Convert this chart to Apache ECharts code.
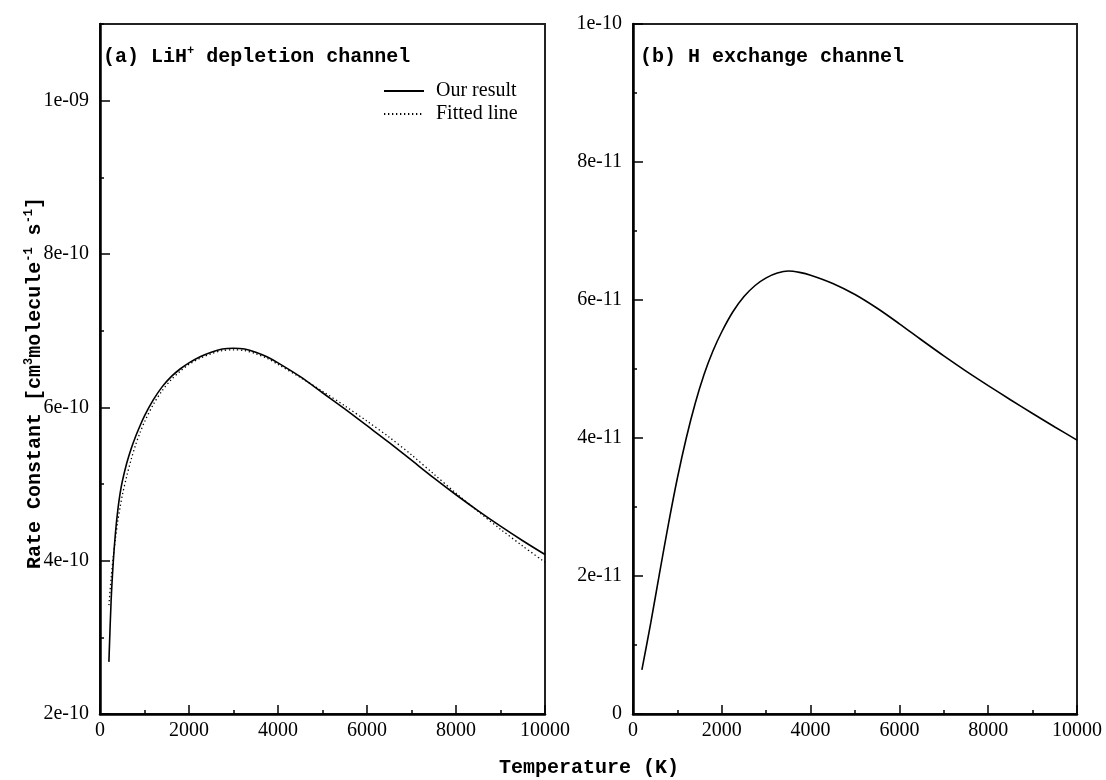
<!DOCTYPE html>
<html>
<head>
<meta charset="utf-8">
<script src="https://cdn.jsdelivr.net/npm/echarts@6/dist/echarts.min.js"></script>
<style>
html,body{margin:0;padding:0;background:#fff;}
#chart{width:1106px;height:780px;}
</style>
</head>
<body>
<div id="chart"></div>
<script>
// ---- data ----
const tempOurA = [200, 250, 300, 350, 400, 450, 500, 600, 700, 800, 900, 1000, 1200, 1400, 1600, 1800, 2000, 2250, 2500, 2750, 3000, 3250, 3500, 3750, 4000, 4500, 5000, 5500, 6000, 6500, 7000, 7500, 8000, 8500, 9000, 9500, 10000];
const ourResultA = [2.68e-10, 3.48e-10, 4.00e-10, 4.38e-10, 4.66e-10, 4.87e-10, 5.03e-10, 5.27e-10, 5.46e-10, 5.62e-10, 5.76e-10, 5.89e-10, 6.10e-10, 6.27e-10, 6.40e-10, 6.50e-10, 6.58e-10, 6.66e-10, 6.72e-10, 6.76e-10, 6.77e-10, 6.76e-10, 6.72e-10, 6.66e-10, 6.58e-10, 6.40e-10, 6.19e-10, 5.98e-10, 5.76e-10, 5.54e-10, 5.31e-10, 5.08e-10, 4.86e-10, 4.65e-10, 4.45e-10, 4.26e-10, 4.08e-10];
const tempFitA = [200, 250, 300, 350, 400, 450, 500, 600, 700, 800, 900, 1000, 1200, 1400, 1600, 1800, 2000, 2250, 2500, 2750, 3000, 3250, 3500, 3750, 4000, 4500, 5000, 5500, 6000, 6500, 7000, 7500, 8000, 8500, 9000, 9500, 10000];
const fittedA = [3.42e-10, 3.77e-10, 4.06e-10, 4.30e-10, 4.52e-10, 4.69e-10, 4.85e-10, 5.10e-10, 5.32e-10, 5.51e-10, 5.67e-10, 5.81e-10, 6.04e-10, 6.22e-10, 6.36e-10, 6.47e-10, 6.56e-10, 6.64e-10, 6.70e-10, 6.74e-10, 6.75e-10, 6.74e-10, 6.70e-10, 6.64e-10, 6.56e-10, 6.39e-10, 6.21e-10, 6.02e-10, 5.82e-10, 5.61e-10, 5.38e-10, 5.13e-10, 4.88e-10, 4.64e-10, 4.41e-10, 4.19e-10, 3.98e-10];
const tempB = [200, 400, 600, 800, 1000, 1200, 1400, 1600, 1800, 2000, 2250, 2500, 2750, 3000, 3250, 3500, 3750, 4000, 4500, 5000, 5500, 6000, 6500, 7000, 7500, 8000, 8500, 9000, 9500, 10000];
const rateB = [0.64e-11, 1.32e-11, 2.05e-11, 2.76e-11, 3.42e-11, 4.00e-11, 4.50e-11, 4.92e-11, 5.26e-11, 5.54e-11, 5.83e-11, 6.05e-11, 6.21e-11, 6.32e-11, 6.39e-11, 6.42e-11, 6.40e-11, 6.36e-11, 6.24e-11, 6.08e-11, 5.88e-11, 5.655e-11, 5.42e-11, 5.19e-11, 4.97e-11, 4.76e-11, 4.555e-11, 4.355e-11, 4.16e-11, 3.97e-11];
const seriesNames = ['Our result', 'Fitted line'];
const panelTitles = ['(a) LiH', '+', ' depletion channel', '(b) H exchange channel'];
const xTitle = 'Temperature (K)';
const yTitleParts = ['Rate Constant [cm', '3', 'molecule', '-1', ' s', '-1', ']'];

// ---- helpers ----
const zip = (xs, ys) => xs.map((x, i) => [x, ys[i]]);
const expFmt = v => {
  if (Math.abs(v) < 1e-30) return '0';
  const s = v.toExponential(0);
  let [m, e] = s.split('e');
  const sign = e[0] === '-' ? '-' : '+';
  let d = e.replace(/^[+-]/, '');
  if (d.length < 2) d = '0' + d;
  return m + 'e' + sign + d;
};
const serif = 'Liberation Serif, Times New Roman, serif';
const mono = 'Liberation Mono, Courier New, monospace';
const axisLineStyle = { color: '#000', width: 2.5 };
const tickStyle = { color: '#000', width: 1.5 };
const labelStyle = { fontFamily: serif, fontSize: 20, color: '#000' };

function xAxis(gi) {
  return {
    type: 'value', gridIndex: gi, min: 0, max: 10000, interval: 2000,
    axisLine: { show: true, lineStyle: axisLineStyle },
    axisTick: { show: true, inside: true, length: 9, lineStyle: tickStyle },
    minorTick: { show: true, splitNumber: 2, length: 4, lineStyle: tickStyle },
    axisLabel: Object.assign({ margin: 7, formatter: v => String(v) }, labelStyle),
    splitLine: { show: false }
  };
}

const supRich = {
  n: { fontFamily: mono, fontWeight: 'bold', fontSize: 20, lineHeight: 24, fill: '#000' },
  s: { fontFamily: mono, fontWeight: 'bold', fontSize: 12, lineHeight: 12, verticalAlign: 'top', fill: '#000' }
};

const chart = echarts.init(document.getElementById('chart'), null, { renderer: 'canvas' });
chart.setOption({
  animation: false,
  backgroundColor: '#fff',
  grid: [
    { left: 100, top: 24, width: 445, height: 690, show: true, borderColor: '#222', borderWidth: 2, backgroundColor: 'transparent' },
    { left: 633, top: 24, width: 444, height: 690, show: true, borderColor: '#222', borderWidth: 2, backgroundColor: 'transparent' }
  ],
  xAxis: [xAxis(0), xAxis(1)],
  yAxis: [
    {
      type: 'value', gridIndex: 0, position: 'left', min: 2e-10, max: 1.1e-9, interval: 2e-10,
      axisLine: { show: true, lineStyle: axisLineStyle },
      axisTick: { show: true, inside: true, length: 10, lineStyle: tickStyle },
      axisLabel: Object.assign({ margin: 11, formatter: expFmt, showMaxLabel: false }, labelStyle),
      splitLine: { show: false }
    },
    {
      type: 'value', gridIndex: 0, position: 'left', offset: 0, min: 2e-10, max: 1.1e-9, interval: 1e-10,
      axisLine: { show: false },
      axisTick: { show: true, inside: true, length: 4, lineStyle: tickStyle },
      axisLabel: { show: false },
      splitLine: { show: false }
    },
    {
      type: 'value', gridIndex: 1, min: 0, max: 1e-10, interval: 2e-11,
      axisLine: { show: true, lineStyle: axisLineStyle },
      axisTick: { show: true, inside: true, length: 10, lineStyle: tickStyle },
      minorTick: { show: true, splitNumber: 2, length: 4, lineStyle: tickStyle },
      axisLabel: Object.assign({ margin: 11, formatter: expFmt }, labelStyle),
      splitLine: { show: false }
    }
  ],
  legend: {
    data: seriesNames,
    orient: 'vertical', left: 383, top: 81, padding: 0,
    itemWidth: 40, itemHeight: 14, itemGap: 3,
    itemStyle: { opacity: 0 },
    textStyle: { fontFamily: serif, fontSize: 20, color: '#000', lineHeight: 16, padding: [0, 0, 0, 7] },
    selectedMode: false
  },
  series: [
    {
      name: seriesNames[0], type: 'line', xAxisIndex: 0, yAxisIndex: 0,
      data: zip(tempOurA, ourResultA), smooth: 0.3, symbol: 'none',
      lineStyle: { color: '#000', width: 1.6, type: 'solid' }, itemStyle: { color: '#000' }
    },
    {
      name: seriesNames[1], type: 'line', xAxisIndex: 0, yAxisIndex: 0,
      data: zip(tempFitA, fittedA), smooth: 0.3, symbol: 'none',
      lineStyle: { color: '#000', width: 1.3, type: [1.3, 2.7] }, itemStyle: { color: '#000' }
    },
    {
      name: 'H exchange', type: 'line', xAxisIndex: 1, yAxisIndex: 2,
      data: zip(tempB, rateB), smooth: 0.3, symbol: 'none',
      lineStyle: { color: '#000', width: 1.6 }, itemStyle: { color: '#000' }
    }
  ],
  graphic: [
    {
      type: 'text', x: 103, y: 57,
      style: {
        text: '{n|' + panelTitles[0] + '}{s|' + panelTitles[1] + '}{n|' + panelTitles[2] + '}',
        rich: supRich, verticalAlign: 'middle', align: 'left'
      }
    },
    {
      type: 'text', x: 640, y: 57,
      style: { text: '{n|' + panelTitles[3] + '}', rich: supRich, verticalAlign: 'middle', align: 'left' }
    },
    {
      type: 'text', x: 589, y: 768,
      style: { text: xTitle, fontFamily: mono, fontWeight: 'bold', fontSize: 20, fill: '#000', align: 'center', verticalAlign: 'middle' }
    },
    {
      type: 'text', x: 35, y: 383, rotation: Math.PI / 2,
      style: {
        text: '{n|' + yTitleParts[0] + '}{s|' + yTitleParts[1] + '}{n|' + yTitleParts[2] + '}{s|' + yTitleParts[3] + '}{n|' + yTitleParts[4] + '}{s|' + yTitleParts[5] + '}{n|' + yTitleParts[6] + '}',
        rich: supRich, align: 'center', verticalAlign: 'middle'
      }
    }
  ]
});
</script>
</body>
</html>
